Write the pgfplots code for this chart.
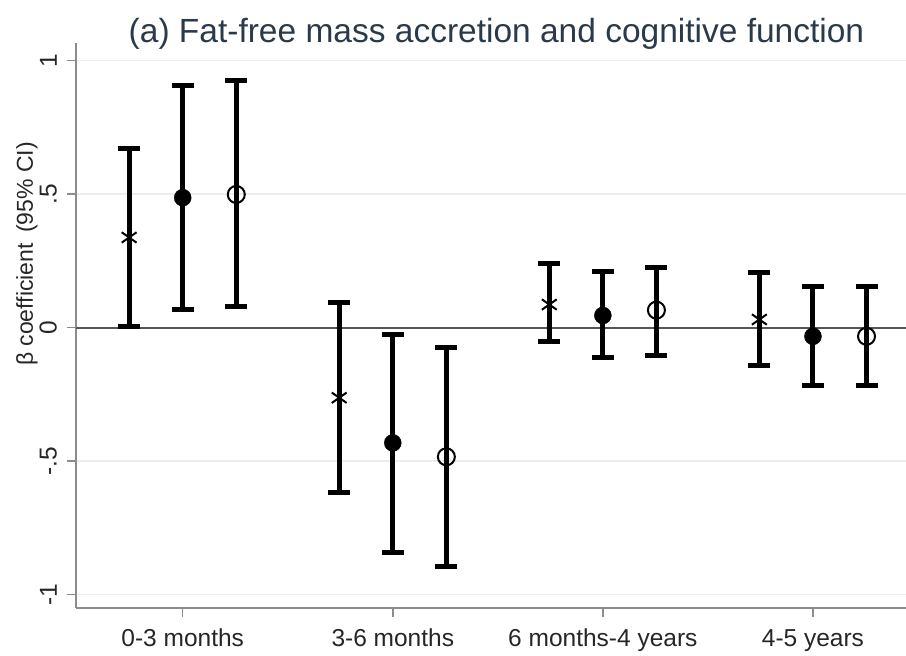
\documentclass[border=0pt]{standalone}
\usepackage{fontspec}
\setmainfont{Liberation Sans}
\usepackage{pgfplots}
\usepackage{pgfplotstable}
\pgfplotsset{compat=1.18}
\definecolor{titlecol}{HTML}{2B3A4A}
\definecolor{axcol}{HTML}{8C8C8C}
\definecolor{gridcol}{HTML}{EDEDED}
\definecolor{zerocol}{HTML}{555555}

% x = category position, y = estimate, lo/hi = 95% CI
\pgfplotstableread{
x      y       lo      hi
0.745  0.337   0.005   0.669
1.745  -0.263  -0.619  0.095
2.745  0.086   -0.051  0.238
3.745  0.030   -0.142  0.207
}\serA
\pgfplotstableread{
x      y       lo      hi
1.000  0.486   0.067   0.906
2.000  -0.432  -0.844  -0.026
3.000  0.045   -0.114  0.211
4.000  -0.033  -0.216  0.152
}\serB
\pgfplotstableread{
x      y       lo      hi
1.255  0.498   0.079   0.925
2.255  -0.484  -0.896  -0.074
3.255  0.065   -0.104  0.224
4.255  -0.033  -0.216  0.152
}\serC

\begin{document}
\begin{tikzpicture}
\begin{axis}[
  scale only axis,
  width=830pt, height=565pt,
  xmin=0.492, xmax=4.443,
  ymin=-1.05, ymax=1.065,
  axis lines=left,
  axis line style={-, axcol, line width=1.5pt},
  tick align=outside,
  major tick length=9pt,
  tick style={axcol, line width=1.5pt},
  xtick={1,2,3,4},
  xticklabels={0-3 months, 3-6 months, 6 months-4 years, 4-5 years},
  ytick={-1,-0.5,0,0.5,1},
  yticklabels={-1,-.5,0,.5,1},
  ymajorgrids,
  major grid style={gridcol, line width=1.5pt},
  tick label style={font=\fontsize{24.5}{28}\selectfont, text=black!85},
  yticklabel style={rotate=90, anchor=south, inner sep=0pt},
  xticklabel style={anchor=north, inner sep=0pt},
  yticklabel shift=10pt,
  xticklabel shift=12pt,
  ylabel={β coefficient\hspace{0.45em}(95\% CI)},
  ylabel style={at={(axis description cs:-0.0590,0.6265)}, anchor=center,
    font=\fontsize{23}{27}\selectfont, text=black!85},
  title={(a) Fat-free mass accretion and cognitive function},
  title style={at={(axis description cs:0.5066,1)}, anchor=base, yshift=-6pt,
    font=\fontsize{33.5}{38}\selectfont, text=titlecol},
  clip=false,
]
\draw[zerocol, line width=2pt] (axis cs:0.492,0) -- (axis cs:4.443,0);

\addplot[only marks, black, mark=x, mark size=10.5pt,
  mark options={line width=2pt, yscale=0.7},
  error bars/.cd, y dir=both, y explicit,
  error bar style={line width=5pt, black},
  error mark options={rotate=90, black, line width=5pt, mark size=11pt}]
  table[x=x, y=y, y error plus expr=\thisrow{hi}-\thisrow{y},
        y error minus expr=\thisrow{y}-\thisrow{lo}] {\serA};

\addplot[only marks, black, mark=*, mark size=8.5pt,
  error bars/.cd, y dir=both, y explicit,
  error bar style={line width=5pt, black},
  error mark options={rotate=90, black, line width=5pt, mark size=11pt}]
  table[x=x, y=y, y error plus expr=\thisrow{hi}-\thisrow{y},
        y error minus expr=\thisrow{y}-\thisrow{lo}] {\serB};

\addplot[only marks, black, mark=o, mark size=8.5pt,
  mark options={line width=2pt, fill=none},
  error bars/.cd, y dir=both, y explicit,
  error bar style={line width=5pt, black},
  error mark options={rotate=90, black, line width=5pt, mark size=11pt}]
  table[x=x, y=y, y error plus expr=\thisrow{hi}-\thisrow{y},
        y error minus expr=\thisrow{y}-\thisrow{lo}] {\serC};
\end{axis}
\pgfresetboundingbox
\useasboundingbox (-76pt,-48pt) rectangle (830pt,608pt);
\end{tikzpicture}
\end{document}
